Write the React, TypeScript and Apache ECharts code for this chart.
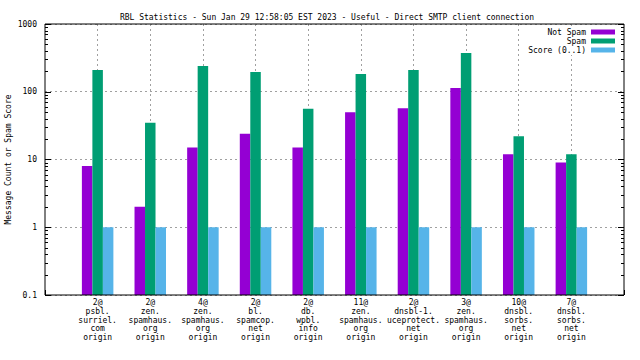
import React, { useEffect, useRef } from "react";
import * as echarts from "echarts";

const TITLE = "RBL Statistics - Sun Jan 29 12:58:05 EST 2023 - Useful - Direct SMTP client connection";
const Y_NAME = "Message Count or Spam Score";

const categories = [
  "2@\npsbl.\nsurriel.\ncom\norigin",
  "2@\nzen.\nspamhaus.\norg\norigin",
  "4@\nzen.\nspamhaus.\norg\norigin",
  "2@\nbl.\nspamcop.\nnet\norigin",
  "2@\ndb.\nwpbl.\ninfo\norigin",
  "11@\nzen.\nspamhaus.\norg\norigin",
  "2@\ndnsbl-1.\nuceprotect.\nnet\norigin",
  "3@\nzen.\nspamhaus.\norg\norigin",
  "10@\ndnsbl.\nsorbs.\nnet\norigin",
  "7@\ndnsbl.\nsorbs.\nnet\norigin",
];

const notSpam = [8, 2, 15, 24, 15, 50, 57, 114, 12, 9];
const spam = [209, 35, 240, 196, 56, 183, 209, 373, 22, 12];
const score = [1, 1, 1, 1, 1, 1, 1, 1, 1, 1];

const majorTicks = [0.1, 1, 10, 100, 1000];
const minorTicks = [
  0.2, 0.3, 0.4, 0.5, 0.6, 0.7, 0.8, 0.9,
  2, 3, 4, 5, 6, 7, 8, 9,
  20, 30, 40, 50, 60, 70, 80, 90,
  200, 300, 400, 500, 600, 700, 800, 900,
];

const FONT = "DejaVu Sans Mono";

export default function App() {
  const ref = useRef<HTMLDivElement>(null);
  useEffect(() => {
    if (!ref.current) return;
    const chart = echarts.init(ref.current, undefined, { renderer: "svg" });
    const cats = ["", ...categories, ""];
    const pad = (arr: number[]) => ["-", ...arr, "-"];
    const tickData = [
      ...majorTicks.map((v) => [0, v, 1]),
      ...minorTicks.map((v) => [0, v, 0]),
    ];
    chart.setOption({
      animation: false,
      backgroundColor: "#fff",
      textStyle: { fontFamily: FONT },
      title: {
        text: TITLE,
        left: 322,
        textAlign: "center",
        top: 7,
        textStyle: { fontFamily: FONT, fontSize: 8, fontWeight: "normal", color: "#000", lineHeight: 10 },
      },
      legend: {
        data: ["Not Spam", "Spam", "Score (0..1)"],
        orient: "vertical",
        align: "right",
        right: 25,
        top: 27,
        itemWidth: 24,
        itemHeight: 5,
        itemGap: 1,
        padding: [1, 0, 1, 4],
        backgroundColor: "#fff",
        icon: "rect",
        textStyle: { fontFamily: FONT, fontSize: 8, color: "#000", lineHeight: 8, padding: [0, 0, 0, 0] },
      },
      grid: {
        left: 45,
        right: 16,
        top: 24,
        bottom: 65,
        show: true,
        borderColor: "#000",
        borderWidth: 1,
        backgroundColor: "transparent",
        containLabel: false,
        outerBoundsMode: "none",
        z: 10,
      },
      xAxis: {
        type: "category",
        data: cats,
        boundaryGap: false,
        axisLine: { show: false },
        axisTick: { show: true, inside: true, length: 5, interval: 0, lineStyle: { color: "#000" } },
        axisLabel: {
          interval: 0,
          margin: 3,
          fontFamily: FONT,
          fontSize: 8,
          lineHeight: 8.8,
          color: "#000",
          align: "center",
        },
        splitLine: {
          show: true,
          interval: (i: number) => i > 0 && i < cats.length - 1,
          lineStyle: { color: "#a0a0a0", type: [2, 3], width: 1 },
        },
      },
      yAxis: {
        type: "log",
        logBase: 10,
        min: 0.1,
        max: 1000,
        startValue: 0.1,
        name: Y_NAME,
        nameLocation: "middle",
        nameGap: 33,
        nameMoveOverlap: false,
        nameTextStyle: { fontFamily: FONT, fontSize: 8, color: "#000" },
        axisLine: { show: false },
        axisTick: { show: false },
        axisLabel: {
          margin: 8,
          fontFamily: FONT,
          fontSize: 8,
          color: "#000",
          formatter: (v: number) => (v < 1 ? v.toFixed(1) : String(Math.round(v))),
        },
        splitLine: {
          show: true,
          lineStyle: { color: "#a0a0a0", type: [2, 3], width: 1 },
        },
      },
      series: [
        {
          name: "Not Spam",
          type: "bar",
          data: pad(notSpam),
          barWidth: 10.5,
          barGap: "0%",
          itemStyle: { color: "#9400d3" },
        },
        {
          name: "Spam",
          type: "bar",
          data: pad(spam),
          barWidth: 10.5,
          barGap: "0%",
          itemStyle: { color: "#009e73" },
        },
        {
          name: "Score (0..1)",
          type: "bar",
          data: pad(score),
          barWidth: 10.5,
          barGap: "0%",
          itemStyle: { color: "#56b4e9" },
        },
        {
          name: "ticks",
          type: "custom",
          z: 20,
          silent: true,
          data: tickData,
          renderItem: (params: any, api: any) => {
            const v = api.value(1);
            const major = api.value(2);
            const y = Math.round(api.coord([0, v])[1]) + 0.5;
            const cs = params.coordSys;
            const len = major ? 6 : 3;
            const st = { stroke: "#000", lineWidth: 1 };
            return {
              type: "group",
              children: [
                { type: "line", shape: { x1: cs.x, y1: y, x2: cs.x + len, y2: y }, style: st },
                { type: "line", shape: { x1: cs.x + cs.width, y1: y, x2: cs.x + cs.width - len, y2: y }, style: st },
              ],
            };
          },
        },
      ],
    });
    return () => chart.dispose();
  }, []);
  return <div ref={ref} style={{ width: 640, height: 360, position: "absolute", left: 0, top: 0 }} />;
}
